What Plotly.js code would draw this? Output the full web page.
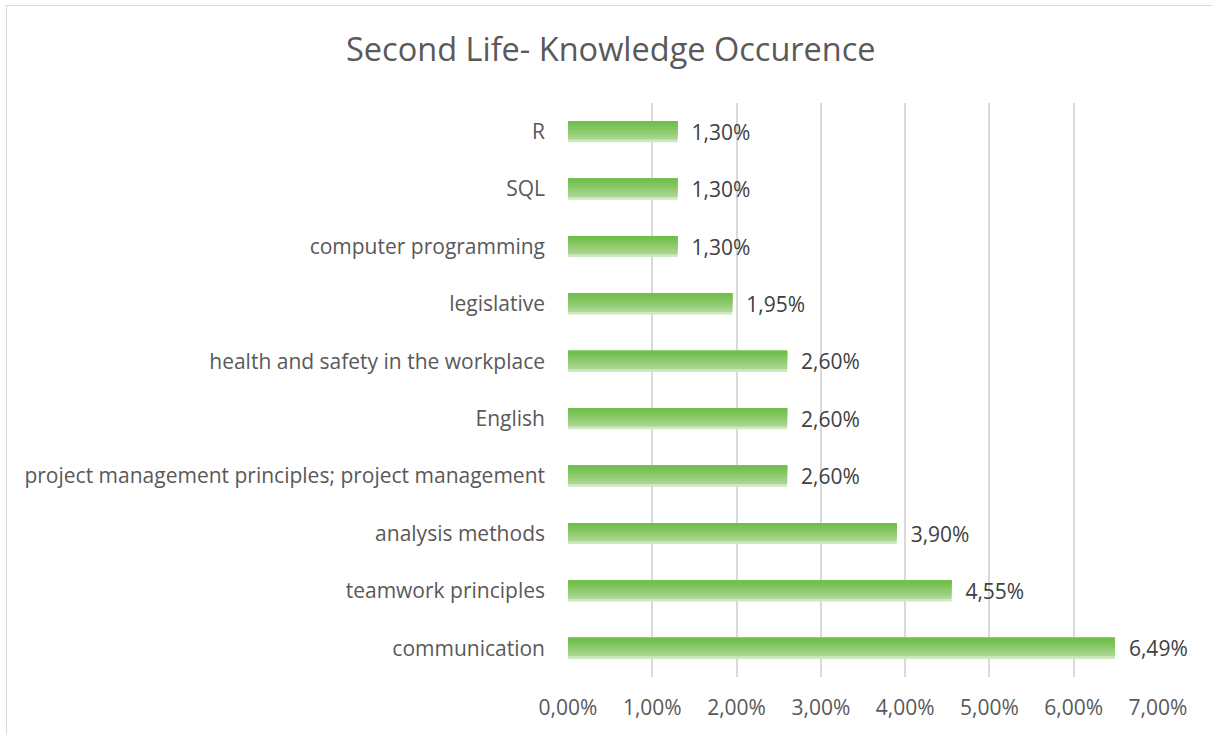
<!DOCTYPE html>
<html>
<head>
<meta charset="utf-8">
<script src="https://cdn.plot.ly/plotly-3.0.1.min.js"></script>
<style>
  body { margin: 0; background: #fff; }
  #chart { width: 1212px; height: 735px; }
  #frame { position: absolute; left: 6px; top: 5px; width: 1300px; height: 800px;
           border: 1.5px solid #d9d9d9; pointer-events: none; }
</style>
</head>
<body>
<div id="chart"></div>
<div id="frame"></div>
<script>
// categories listed bottom to top
var skills = ["communication", "teamwork principles", "analysis methods",
  "project management principles; project management", "English",
  "health and safety in the workplace", "legislative", "computer programming",
  "SQL", "R"];
var occurence = [0.0649, 0.0455, 0.039, 0.026, 0.026, 0.026, 0.0195, 0.013, 0.013, 0.013];

var tickVals = [0, 0.01, 0.02, 0.03, 0.04, 0.05, 0.06, 0.07];

var font = "'Open Sans', sans-serif";

// fake the excel gradient: each band starts higher and runs to the top, painted over the last
var bandColors = ["#d0e8c2", "#a9d68f", "#9fd283", "#95cd77", "#8bc96b", "#81c560", "#78c255", "#70bf4b"];
var bandStart = [0, 0.13, 0.25, 0.37, 0.5, 0.62, 0.75, 0.87];
var barWidth = 0.37;
var data = [];
bandColors.forEach(function(c, i) {
  var s = bandStart[i] * barWidth;
  data.push({
    type: "bar",
    orientation: "h",
    y: skills,
    x: occurence,
    width: barWidth - s,
    offset: -barWidth / 2 + s,
    marker: {color: c, line: {width: 0}},
    hoverinfo: "skip",
    showlegend: false
  });
});

// labels
data.push({
  type: "bar",
  orientation: "h",
  y: skills,
  x: occurence,
  width: barWidth,
  marker: {color: "rgba(0,0,0,0)"},
  texttemplate: "  %{x:.2%}",
  textposition: "outside",
  constraintext: "none",
  cliponaxis: false,
  textfont: {family: font, size: 21, color: "#404040"},
  showlegend: false
});

var layout = {
  title: {
    text: "Second Life- Knowledge Occurence",
    font: {family: font, size: 32.5, color: "#595959"},
    x: 0.504, xref: "container", xanchor: "center",
    y: 1 - 50 / 735, yref: "container", yanchor: "middle"
  },
  barmode: "overlay",
  separators: ",.",
  margin: {l: 568, r: 54, t: 103, b: 58},
  paper_bgcolor: "#fff",
  plot_bgcolor: "#fff",
  xaxis: {
    range: [0, 0.07],
    tickvals: tickVals,
    tickformat: ".2%",
    showgrid: true,
    gridcolor: "#d9d9d9",
    gridwidth: 2,
    zeroline: false,
    showline: false,
    ticks: "",
    ticklabelstandoff: 16,
    tickfont: {family: font, size: 21, color: "#595959"}
  },
  yaxis: {
    type: "category",
    showgrid: false,
    zeroline: false,
    showline: false,
    ticks: "",
    ticklabelstandoff: 22,
    tickfont: {family: font, size: 21, color: "#595959"}
  }
};

Plotly.newPlot("chart", data, layout, {displayModeBar: false, staticPlot: true});
</script>
</body>
</html>
